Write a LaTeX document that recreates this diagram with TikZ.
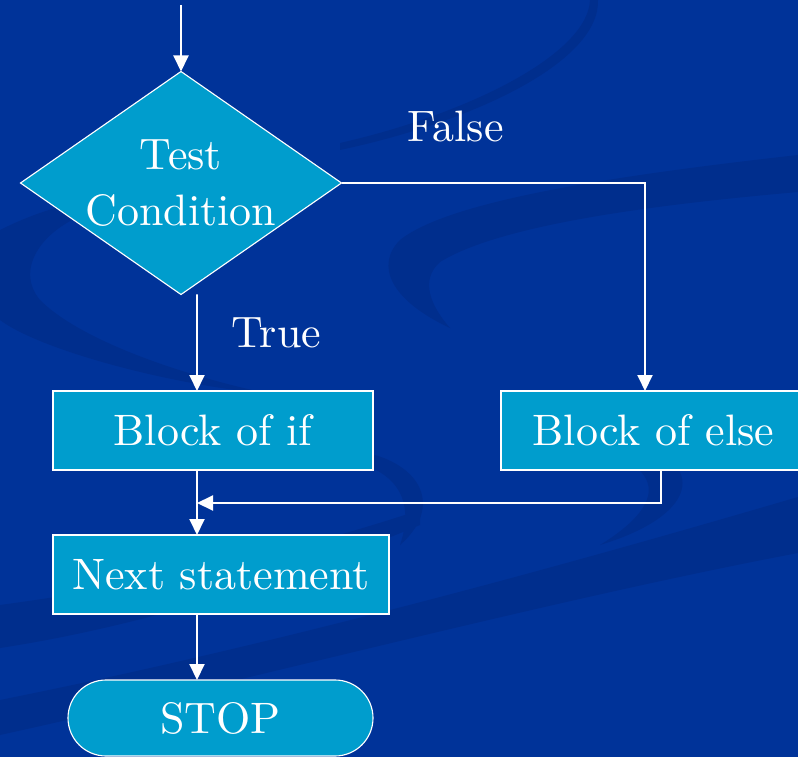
\documentclass[tikz,border=0pt]{standalone}
\usepackage{fontspec}
\setmainfont{lmroman10-regular.otf}
\usetikzlibrary{shapes.geometric,shapes.misc,arrows.meta}
\definecolor{bg}{RGB}{0,51,153}
\definecolor{dkbg}{RGB}{0,46,141}
\definecolor{boxc}{RGB}{0,157,205}

\begin{document}
\begin{tikzpicture}[scale=1,
  blk/.style={draw=white,line width=0.8pt,fill=boxc,text=white,inner sep=0pt,outer sep=0pt,
    minimum height=1.975cm,font=\fontsize{31.3}{39.8}\selectfont},
  lbl/.style={text=white,font=\fontsize{31.3}{39.8}\selectfont},
  arr/.style={white,line width=1.4pt,-{Triangle[width=3.75mm,length=4mm]}}]
\useasboundingbox (0,0) rectangle (19.95,18.925);
\fill[bg] (0,0) rectangle (19.95,18.925);

% background swooshes
\fill[dkbg] (0,13.175) .. controls (0.75,13.55) and (1.5,13.8) .. (2.25,13.925) -- (2.25,13.625)
  .. controls (1,13.175) and (0.375,12.175) .. (1,11.425)
  .. controls (2,10.425) and (4.5,9.55) .. (6.75,9.075)
  .. controls (4.25,9.3) and (1,10.175) .. (0,10.925) -- cycle;
\fill[dkbg] (19.95,15.05) .. controls (15.5,14.55) and (11.25,13.925) .. (10,12.925)
  .. controls (9.375,12.3) and (9.75,11.425) .. (11.25,10.725)
  .. controls (10.75,11.3) and (10.5,11.925) .. (11,12.375)
  .. controls (12.5,13.3) and (16.25,13.8) .. (19.95,14.125) -- cycle;
\fill[dkbg] (15.375,7.925) .. controls (17.5,7.675) and (17.875,6.175) .. (15,5.3)
  .. controls (16.625,6.3) and (16.625,7.175) .. (15,7.675) -- cycle;
\fill[dkbg] (9.375,7.55) .. controls (10.625,7.175) and (11,6.175) .. (10,5.3)
  .. controls (10.3,6.175) and (10.125,6.925) .. (9.125,7.3) -- cycle;
\fill[dkbg] (19.95,6.5) .. controls (15,5.05) and (7.5,2.925) .. (0,1.425) -- (0,0.55)
  .. controls (6.25,1.925) and (13.75,3.925) .. (19.95,5.1) -- cycle;
\fill[dkbg] (0,3.8) .. controls (3.75,4.3) and (7.5,5.175) .. (10.5,6.175) -- (10.5,5.8)
  .. controls (7.5,4.55) and (3.75,3.3) .. (0,2.725) -- cycle;
\fill[dkbg] (8.5,15.175) .. controls (12,15.925) and (15,17.425) .. (14.95,18.925) -- (14.75,18.925)
  .. controls (14.7,17.6) and (11.8,16.1) .. (8.5,15.35) -- cycle;

% blocks
\node[blk,diamond,aspect=1.44,minimum width=8.025cm,minimum height=5.575cm,align=center]
  (cond) at (4.525,14.35) {Test\\Condition};
\node[blk,minimum width=8cm] (ifb) at (5.325,8.1625) {Block of if};
\node[blk,minimum width=7.625cm] (elseb) at (16.3375,8.1625) {Block of else};
\node[blk,minimum width=8.4cm] (next) at (5.525,4.5625) {Next statement};
\node[blk,rounded rectangle,minimum width=7.625cm,minimum height=1.9cm] (stop) at (5.5125,0.975) {STOP};
\coordinate (top) at (4.525,18.8);
\coordinate (merge) at (4.925,6.35);

% connectors
\draw[arr] (top) -- (cond.north);
\draw[arr] (cond.east) -| ([xshift=-2.125mm]elseb.north);
\draw[arr] ([xshift=4mm]cond.south) -- ([xshift=-4mm]ifb.north);
\draw[arr] ([xshift=-4mm]ifb.south) -- ([xshift=-6mm]next.north);
\draw[arr] ([xshift=1.875mm]elseb.south) |- (merge);
\draw[arr] ([xshift=-6mm]next.south) -- ([xshift=-5.875mm]stop.north);

% labels
\node[lbl] (tlbl) at (6.9125,10.6125) {True};
\node[lbl] (flbl) at (11.3875,15.775) {False};
\end{tikzpicture}
\end{document}
